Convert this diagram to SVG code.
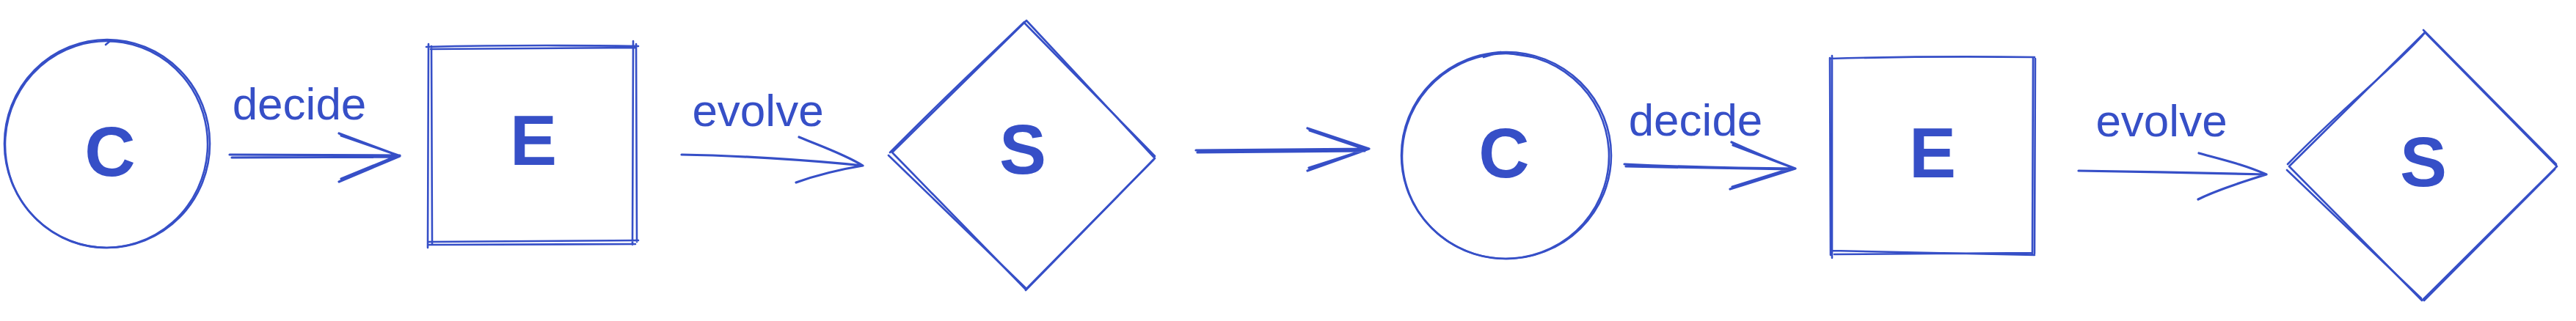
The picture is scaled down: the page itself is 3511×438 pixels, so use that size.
<svg xmlns="http://www.w3.org/2000/svg" width="3511" height="438" viewBox="0 0 3511 438">
<style>
.s{fill:none;stroke:#364fc7;stroke-width:2.6;stroke-linecap:round;stroke-linejoin:round}
.a{fill:none;stroke:#364fc7;stroke-width:3.2;stroke-linecap:round;stroke-linejoin:round}
.lbl{fill:#364fc7;font-family:"Liberation Sans",Arial,sans-serif;font-size:62px;text-anchor:middle}
.big{fill:#364fc7;font-family:"Liberation Sans",Arial,sans-serif;font-size:96px;font-weight:bold;text-anchor:middle}
</style>
<rect width="3511" height="438" fill="#ffffff"/>

<g id="node-C1">
<ellipse class="s" cx="146" cy="196" rx="140" ry="142"/>
<ellipse class="s" cx="145" cy="197" rx="138" ry="141" transform="rotate(4 145 197)"/>
<path class="s" d="M144,61 L150,56 L170,57"/>
<text class="big" x="150" y="240">C</text>
</g>

<g id="node-E1">
<path class="s" d="M581,64 C700,61 800,62 870,63 M587,67 L866,65 M863,56 L862,334 M867,60 L868,330 M584,330 L870,328 M585,334 L866,333 M584,60 L583,338 M588,63 L589,333"/>
<text class="big" x="727" y="225">E</text>
</g>

<g id="node-S1">
<path class="s" d="M1399,28 L1216,208 L1398,395 L1574,216 Z"/>
<path class="s" d="M1396,31 L1574,213 M1211,212 L1398,393 M1213,208 C1300,120 1350,75 1396,30 M1398,396 L1572,218"/>
<text class="big" x="1394" y="237">S</text>
</g>

<g id="node-C2">
<ellipse class="s" cx="2053" cy="212" rx="143" ry="141"/>
<ellipse class="s" cx="2052" cy="213" rx="141" ry="140" transform="rotate(-4 2052 213)"/>
<path class="s" d="M2022,78 L2045,71 L2090,78"/>
<text class="big" x="2050" y="242">C</text>
</g>

<g id="node-E2">
<path class="s" d="M2494,80 C2600,77 2700,77 2773,78 M2497,76 L2497,352 M2494,79 L2495,348 M2771,78 L2770,348 M2774,80 L2773,346 M2497,342 L2773,348 M2500,347 L2770,345"/>
<text class="big" x="2634" y="242">E</text>
</g>

<g id="node-S2">
<path class="s" d="M3305,44 L3120,227 L3301,410 L3485,227 Z"/>
<path class="s" d="M3303,41 L3484,224 M3117,232 L3300,407 M3118,224 C3200,140 3260,95 3304,46 M3304,410 L3482,231"/>
<text class="big" x="3303" y="254">S</text>
</g>

<g id="connectors">
<path class="a" d="M313,211 L545,212 M316,215 L540,214 M462,182 L545,213 L462,248 M465,185 L543,212 L465,244"/>
<path class="a" d="M929,211 C1000,212 1100,218 1176,226 M1089,187 C1120,200 1150,210 1176,226 C1140,232 1110,240 1085,249"/>
<path class="a" d="M1630,205 L1866,203 M1632,208 L1860,206 M1782,175 L1866,203 L1782,233 M1785,178 L1862,204 L1784,229"/>
<path class="a" d="M2214,224 C2300,228 2380,230 2447,230 M2216,227 L2440,231 M2360,194 C2395,210 2420,220 2447,230 L2358,258 M2362,198 L2444,229 L2361,255"/>
<path class="a" d="M2833,233 C2920,234 3000,236 3089,238 M2997,209 C3030,218 3060,225 3089,238 C3050,250 3020,260 2996,272"/>
</g>

<g id="labels">
<text class="lbl" x="408" y="163">decide</text>
<text class="lbl" x="1033" y="172">evolve</text>
<text class="lbl" x="2311" y="185">decide</text>
<text class="lbl" x="2946" y="186">evolve</text>
</g>
</svg>
